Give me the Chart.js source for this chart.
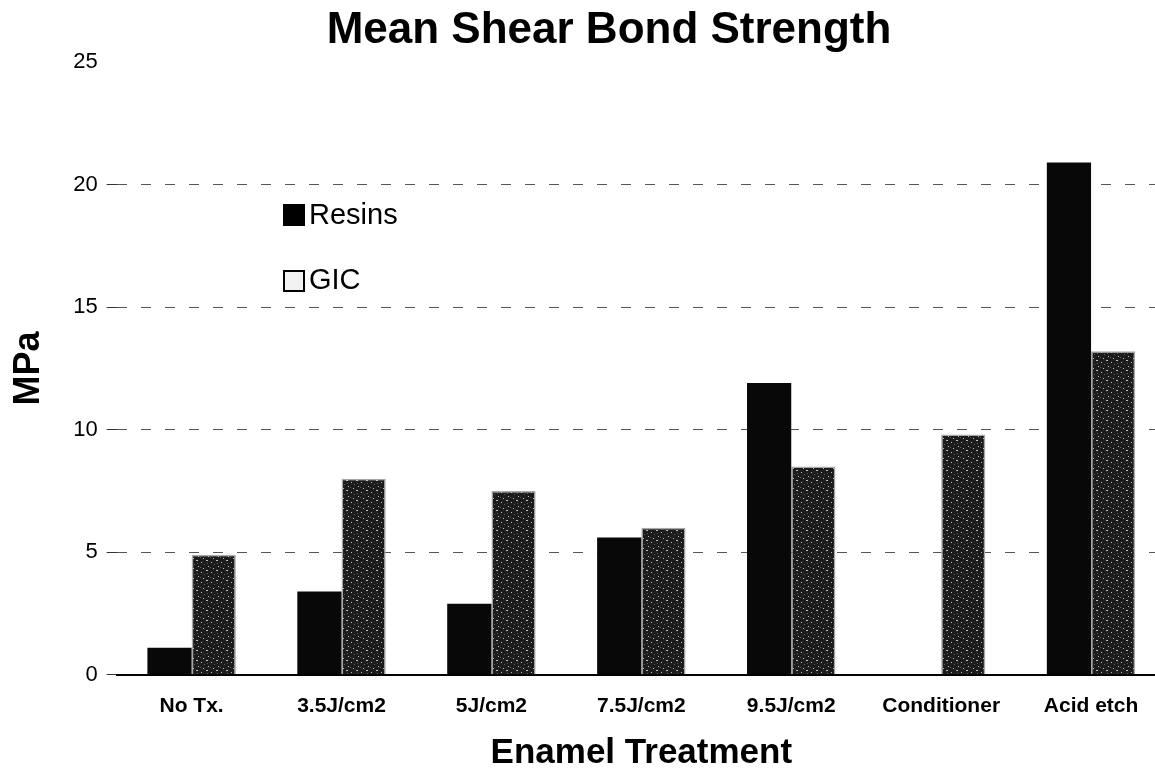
<!DOCTYPE html>
<html>
<head>
<meta charset="utf-8">
<script src="https://cdn.jsdelivr.net/npm/chart.js@4"></script>
<style>
    html, body { margin: 0; padding: 0; background: #fff; overflow: hidden; }
    #wrap { position: relative; width: 1170px; height: 771px; }
</style>
</head>
<body>
<div id="wrap"><canvas id="bond-chart"></canvas></div>
<script>
// Categories on the x axis
const treatments = ['No Tx.', '3.5J/cm2', '5J/cm2', '7.5J/cm2', '9.5J/cm2', 'Conditioner', 'Acid etch'];

// Mean shear bond strength (MPa)
const resinValues = [1.1, 3.4, 2.9, 5.6, 11.9, 0, 20.9];
const gicValues = [4.9, 8.0, 7.5, 6.0, 8.5, 9.8, 13.2];

// Tick labels for the y axis
const yTicks = [0, 5, 10, 15, 20, 25];

const chartTitle = 'Mean Shear Bond Strength';

const fontName = '"Liberation Sans", Arial, sans-serif';

// Stippled dark grey fill for the GIC bars
function stipplePattern() {
    let c = document.createElement('canvas');
    c.width = 10;
    c.height = 10;
    let g = c.getContext('2d');
    g.fillStyle = '#1c1c1c';
    g.fillRect(0, 0, 10, 10);
    g.fillStyle = '#bdbdbd';
    g.fillRect(1, 2, 1, 1);
    g.fillRect(6, 0, 2, 1);
    g.fillRect(8, 6, 1, 1);
    g.fillRect(3, 8, 1, 1);
    g.fillStyle = '#5a5a5a';
    g.fillRect(4, 4, 1, 1);
    g.fillRect(0, 7, 1, 1);
    g.fillRect(7, 3, 1, 1);
    return g.createPattern(c, 'repeat');
}

// Title and legend drawn by hand, the original has the title a bit right of centre
// and the legend sitting inside the plot
const decorations = {
    id: 'decorations',
    afterDraw(chart) {
        let ctx = chart.ctx;
        ctx.save();

        // Title
        ctx.font = 'bold 44px ' + fontName;
        ctx.textAlign = 'center';
        ctx.textBaseline = 'middle';
        ctx.fillStyle = '#000';
        ctx.fillText(chartTitle, 609, 31);

        // Legend
        ctx.textAlign = 'left';
        ctx.font = '29px ' + fontName;
        // Resins
        ctx.fillRect(283, 204, 22, 22);
        ctx.fillText(chart.data.datasets[0].label, 309, 216);
        // GIC
        ctx.lineWidth = 2;
        ctx.strokeStyle = '#000';
        ctx.fillStyle = '#f2f2f2';
        ctx.fillRect(284, 271, 20, 20);
        ctx.strokeRect(284, 271, 20, 20);
        ctx.fillStyle = '#000';
        ctx.fillText(chart.data.datasets[1].label, 309, 281);
        ctx.restore();
    }
};

let ctx = document.getElementById('bond-chart');

new Chart(ctx, {
    type: 'bar',
    data: {
        labels: treatments,
        datasets: [{
            label: 'Resins',
            data: resinValues,
            backgroundColor: '#080808',
            borderWidth: 0,
            barPercentage: 1.0,
            categoryPercentage: 0.59
        }, {
            label: 'GIC',
            data: gicValues,
            backgroundColor: stipplePattern(),
            borderColor: '#a8a8a8',
            borderWidth: 1.5,
            barPercentage: 1.0,
            categoryPercentage: 0.59
        }]
    },
    options: {
        responsive: true,
        maintainAspectRatio: false,
        animation: false,
        layout: {
            // top space is kept free for the hand-drawn title
            padding: { left: 4, right: 4, top: 62, bottom: 0 }
        },
        plugins: {
            title: { display: false },
            legend: { display: false },
            tooltip: { enabled: false }
        },
        scales: {
            x: {
                grid: { display: false, drawTicks: false },
                border: { display: true, color: '#000', width: 2 },
                ticks: {
                    color: '#000',
                    padding: 19,
                    maxRotation: 0,
                    autoSkip: false,
                    font: { family: fontName, size: 21, weight: 'bold' }
                },
                title: {
                    display: true,
                    text: 'Enamel Treatment',
                    color: '#000',
                    font: { family: fontName, size: 35, weight: 'bold' },
                    padding: { top: -6, bottom: -3 }
                }
            },
            y: {
                min: 0,
                max: 25,
                afterBuildTicks: axis => {
                    axis.ticks = yTicks.map(v => ({ value: v }));
                },
                // dashed grid lines
                border: { display: false, dash: [10, 14] },
                grid: {
                    color: c => (c.tick && (c.tick.value === 0 || c.tick.value === 25)) ? 'rgba(0,0,0,0)' : '#555',
                    tickColor: c => (c.tick && c.tick.value === 25) ? 'rgba(0,0,0,0)' : '#333',
                    tickLength: 10,
                    lineWidth: 1
                },
                ticks: {
                    color: '#000',
                    padding: 9,
                    font: { family: fontName, size: 22 }
                },
                title: {
                    display: true,
                    text: 'MPa',
                    color: '#000',
                    font: { family: fontName, size: 36, weight: 'bold' },
                    padding: { top: 3, bottom: 14 }
                }
            }
        }
    },
    plugins: [decorations]
});
</script>
</body>
</html>
